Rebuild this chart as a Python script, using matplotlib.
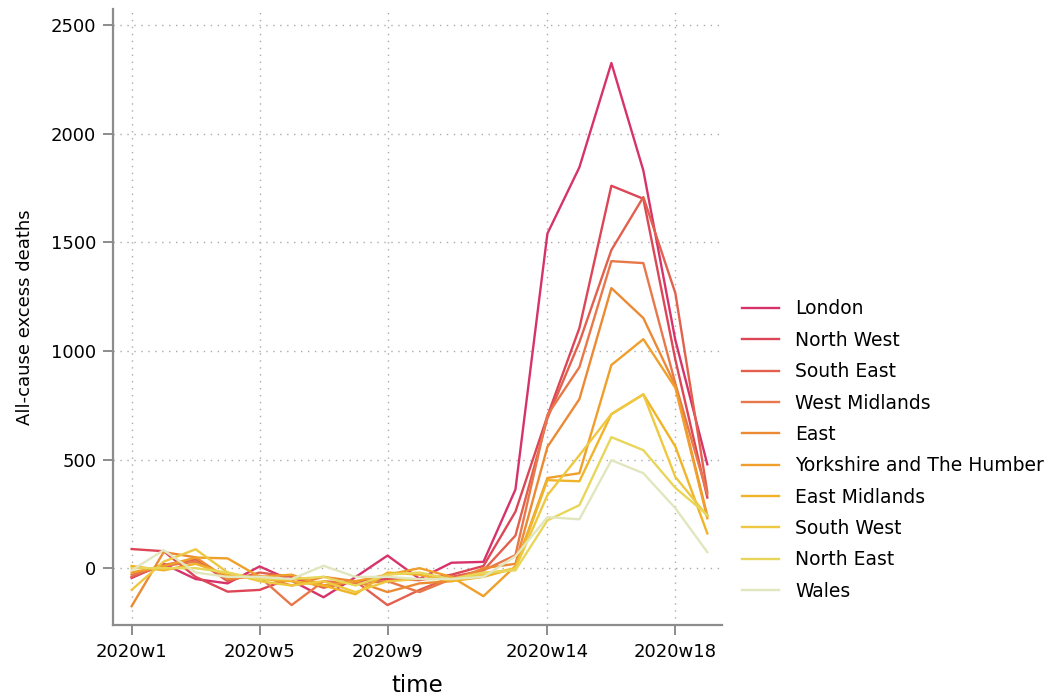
import matplotlib
matplotlib.use("Agg")
import matplotlib.pyplot as plt

plt.rcParams['font.family'] = ['DejaVu Sans']

weeks = list(range(1, 20))
tick_weeks = [1, 5, 9, 14, 18]
tick_labels = ["2020w1", "2020w5", "2020w9", "2020w14", "2020w18"]

regions = ["London", "North West", "South East", "West Midlands", "East",
           "Yorkshire and The Humber", "East Midlands", "South West",
           "North East", "Wales"]

london = [-45, 20, -50, -70, 8, -57, -134, -41, 58, -49, 25, 29, 362, 1540, 1845, 2325, 1830, 1050, 478]
north_west = [88, 78, -40, -108, -100, -45, -80, -60, -50, -55, -30, 10, 260, 700, 1105, 1760, 1700, 960, 325]
south_east = [-40, 15, 40, -60, -20, -40, -90, -60, -170, -100, -40, -10, 150, 690, 1040, 1464, 1708, 1266, 350]
west_midlands = [-30, 10, 30, -40, -40, -170, -60, -70, -60, -110, -50, -10, 60, 705, 925, 1413, 1404, 850, 340]
east = [-175, 74, 50, -50, -35, -80, -40, -60, -110, -70, -60, 0, 20, 558, 778, 1289, 1151, 840, 240]
yorkshire = [-20, 10, 49, 45, -40, -30, -80, -60, -30, 0, -40, -129, 10, 415, 437, 935, 1054, 830, 230]
east_midlands = [10, -10, 20, -30, -50, -60, -80, -120, -20, -30, -60, -40, 0, 405, 400, 709, 800, 560, 160]
south_west = [-100, 30, 87, -20, -60, -80, -60, -110, -60, -50, -50, -30, 0, 336, 520, 709, 800, 420, 240]
north_east = [0, 0, 0, -20, -50, -50, -40, -80, -30, -20, -50, -20, -10, 220, 290, 603, 543, 370, 245]
wales = [-10, 83, -20, -40, -40, -50, 11, -40, -40, -50, -50, -40, 55, 235, 225, 497, 437, 276, 74]

series = [london, north_west, south_east, west_midlands, east, yorkshire,
          east_midlands, south_west, north_east, wales]
colors = ['#d6336b', '#dc4656', '#e2604d', '#e8784a', '#ec8a34', '#ef9f2a',
          '#f0b429', '#eec840', '#e8d65a', '#e2e6bf']

fig = plt.figure(figsize=(10.49, 7.0), dpi=100)
ax = fig.add_axes([0.1077, 0.107, 0.5803, 0.880])

for name, vals, c in zip(regions, series, colors):
    ax.plot(weeks, vals, color=c, lw=1.7, label=name)

ax.set_xlim(0.416, 19.45)
ax.set_ylim(-262, 2573)
ax.set_xticks(tick_weeks)
ax.set_xticklabels(tick_labels)
ax.set_yticks([0, 500, 1000, 1500, 2000, 2500])

ax.grid(True, linestyle=(0, (1, 4)), color='#aaaaaa', lw=1.0)
ax.set_axisbelow(True)
for s in ['top', 'right']:
    ax.spines[s].set_visible(False)
for s in ['left', 'bottom']:
    ax.spines[s].set_color('#8c8c8c')
    ax.spines[s].set_linewidth(1.6)
ax.tick_params(axis='both', colors='#8c8c8c', length=7, width=1.4,
               labelcolor='black', labelsize=13)
ax.tick_params(axis='x', pad=6)
ax.tick_params(axis='y', pad=5)

ax.set_ylabel("All-cause excess deaths", fontsize=13, labelpad=12)
ax.set_xlabel("time", fontsize=16.5, labelpad=9)

fig.legend(loc='center left', bbox_to_anchor=(0.707, 0.357), frameon=False,
           fontsize=13.5, handlelength=2.0, handletextpad=0.85, labelspacing=0.66,
           borderpad=0, borderaxespad=0)

fig.savefig("out.png", dpi=100)
